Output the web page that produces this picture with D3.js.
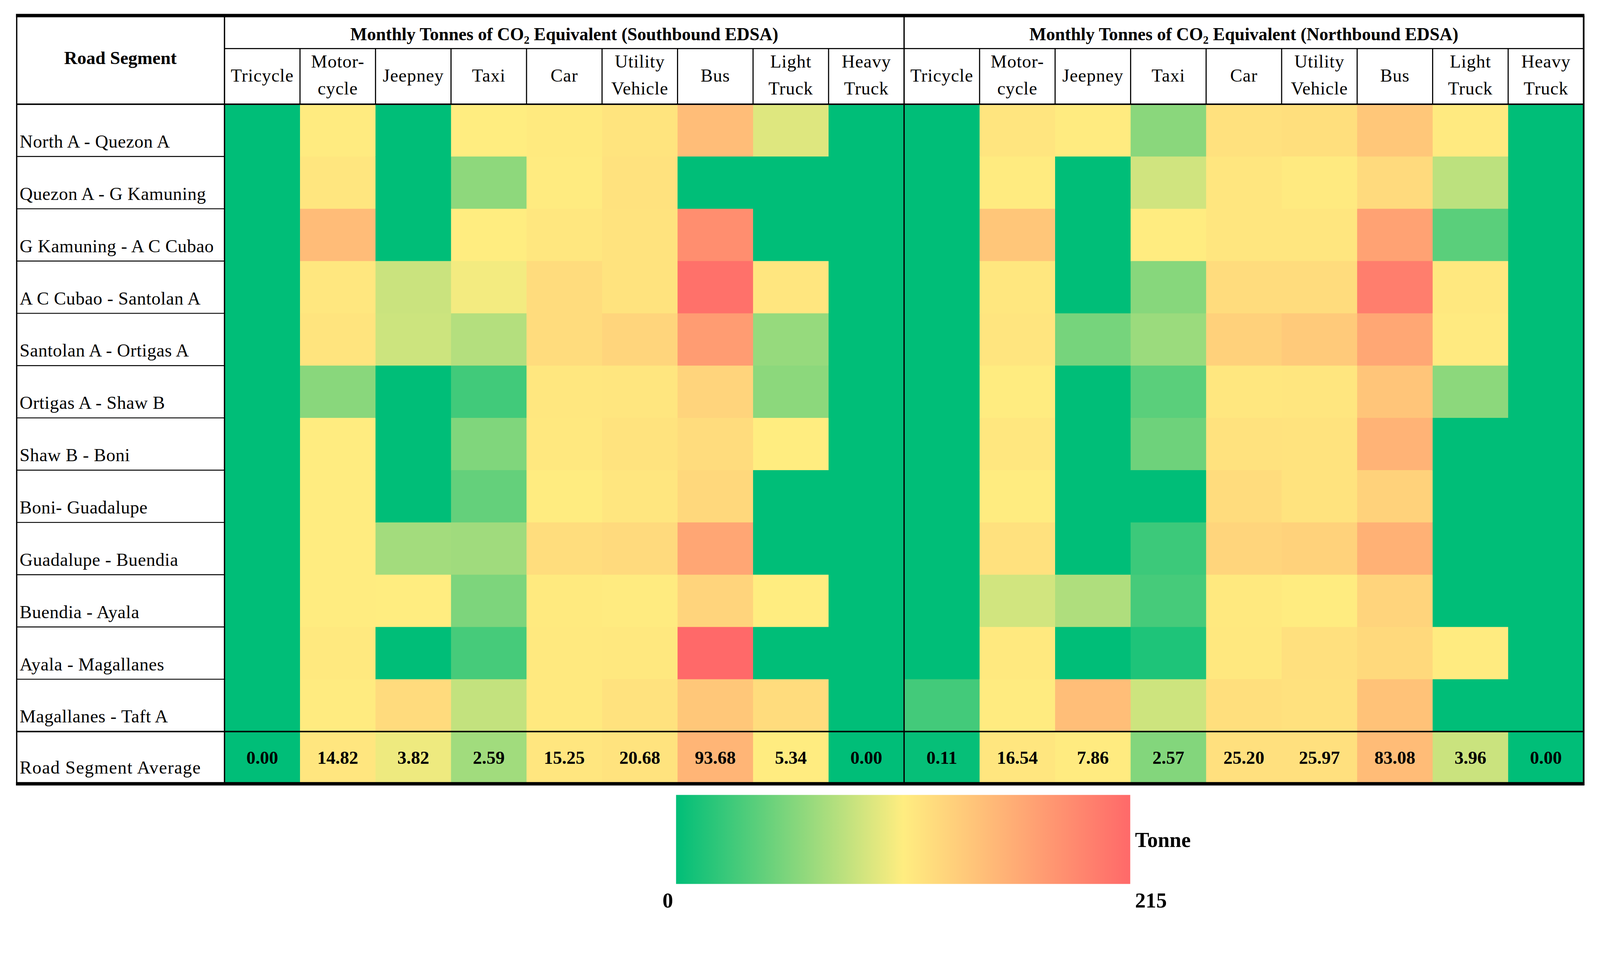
<!DOCTYPE html>
<html>
<head>
<meta charset="utf-8">
<script src="https://cdn.jsdelivr.net/npm/d3@7"></script>
<style>
  html, body { margin: 0; padding: 0; background: #fff; overflow: hidden; }
  svg { display: block; }
  text { font-family: "Liberation Serif", "Times New Roman", serif; fill: #000; }
</style>
</head>
<body>
<svg id="chart"></svg>
<script>
// Data
const segments = [
  'North A - Quezon A', 'Quezon A - G Kamuning', 'G Kamuning - A C Cubao',
  'A C Cubao - Santolan A', 'Santolan A - Ortigas A', 'Ortigas A - Shaw B',
  'Shaw B - Boni', 'Boni- Guadalupe', 'Guadalupe - Buendia',
  'Buendia - Ayala', 'Ayala - Magallanes', 'Magallanes - Taft A'
];
const vehicles = [
  ['Tricycle'], ['Motor-', 'cycle'], ['Jeepney'], ['Taxi'], ['Car'],
  ['Utility', 'Vehicle'], ['Bus'], ['Light', 'Truck'], ['Heavy', 'Truck']
];
const directions = ['Southbound EDSA', 'Northbound EDSA'];

// one array per vehicle, one value per road segment (tonnes / month)
const southbound = [
  [0, 0, 0, 0, 0, 0, 0, 0, 0, 0, 0, 0],
  [7, 16, 82, 14, 18, 2.2, 5.2, 5.0, 5.3, 5.1, 10, 8],
  [0, 0, 0, 3.25, 3.28, 0, 0, 0, 2.62, 4.4, 0, 32.3],
  [4.2, 2.28, 4.23, 3.91, 2.89, 1.05, 2.06, 1.61, 2.57, 2.01, 1.13, 3.14],
  [9, 7, 14, 31, 31, 14, 12.5, 5, 29, 9, 10.5, 11],
  [18, 21.5, 20, 20, 43, 15, 20, 15, 35, 8, 11.5, 21.2],
  [80, 0, 156, 203, 133, 44, 31, 37, 117, 44, 215, 64.2],
  [3.57, 0, 0, 15, 2.41, 2.25, 4.55, 0, 0, 4.5, 0, 31.8],
  [0, 0, 0, 0, 0, 0, 0, 0, 0, 0, 0, 0]
];
const northbound = [
  [0, 0, 0, 0, 0, 0, 0, 0, 0, 0, 0, 1.32],
  [17.5, 7.5, 67.4, 14.5, 18, 6, 14.5, 6, 24.5, 4.1, 11, 7.5],
  [8.2, 0, 0, 0, 2.31, 0, 0, 0, 0, 3.43, 0, 80.36],
  [2.71, 4.08, 7.28, 2.65, 3.04, 1.76, 2.16, 0, 1.18, 1.37, 0.59, 4.02],
  [24, 16, 16, 32, 50, 14.5, 22.5, 32, 43.5, 11, 13, 27.9],
  [28, 9, 16.5, 32.5, 60, 16.5, 21.5, 21.5, 48.5, 7, 26, 24.6],
  [65, 36, 125, 181, 117, 69, 98, 48.5, 101, 45.5, 37.5, 73.5],
  [9, 3.69, 1.76, 13.3, 9, 2.75, 0, 0, 0, 0, 8, 0],
  [0, 0, 0, 0, 0, 0, 0, 0, 0, 0, 0, 0]
];
const southAverage = [0.00, 14.82, 3.82, 2.59, 15.25, 20.68, 93.68, 5.34, 0.00];
const northAverage = [0.11, 16.54, 7.86, 2.57, 25.20, 25.97, 83.08, 3.96, 0.00];
const legendTicks = [0, 215];

// Layout (drawn in a 4312 x 2484 coordinate space, fitted to the window width)
const W = 4312, H = 2484;
const tblLeft = 44, labelRight = 605, tblRight = 4268;
const tblTop = 42, groupBottom = 131, headBottom = 281, tblBottom = 2113;
const green = '#00be78', yellow = '#ffed80', red = '#ff6969';

const fitW = window.innerWidth;
const svg = d3.select('#chart')
  .attr('width', fitW)
  .attr('height', fitW * H / W)
  .attr('viewBox', `0 0 ${W} ${H}`);

svg.append('rect').attr('width', W).attr('height', H).attr('fill', '#fff');

const x = d3.scaleBand().domain(d3.range(18)).range([labelRight, tblRight]);
const y = d3.scaleBand().domain(d3.range(13)).range([headBottom, tblBottom]);
const bw = x.bandwidth(), bh = y.bandwidth();

// Excel-style 3 colour scales (midpoint differs per direction)
const colors = [
  d3.scaleLinear().domain([0, 4.1, 215]).range([green, yellow, red]).interpolate(d3.interpolateRgb),
  d3.scaleLinear().domain([0, 5, 215]).range([green, yellow, red]).interpolate(d3.interpolateRgb)
];

const tables = [southbound, northbound];
const averages = [southAverage, northAverage];

const cells = [];
tables.forEach((tab, d) => tab.forEach((col, v) => col.forEach((val, r) => {
  cells.push({ d, v, r, val });
})));

svg.append('g').selectAll('rect')
  .data(cells)
  .join('rect')
  .attr('x', c => x(c.d * 9 + c.v))
  .attr('y', c => y(c.r))
  .attr('width', bw + 1)
  .attr('height', bh + 1)
  .attr('fill', c => colors[c.d](c.val));

// Average row
const avgCells = [];
averages.forEach((arr, d) => arr.forEach((val, v) => avgCells.push({ d, v, val })));

const avgG = svg.append('g');
avgG.selectAll('rect')
  .data(avgCells)
  .join('rect')
  .attr('x', c => x(c.d * 9 + c.v))
  .attr('y', y(12))
  .attr('width', bw + 1)
  .attr('height', bh)
  .attr('fill', c => colors[c.d](c.val));
avgG.selectAll('text')
  .data(avgCells)
  .join('text')
  .attr('x', c => x(c.d * 9 + c.v) + bw / 2)
  .attr('y', y(12) + bh / 2 + 17)
  .attr('text-anchor', 'middle')
  .attr('font-size', 49)
  .attr('font-weight', 'bold')
  .text(c => c.val.toFixed(2));

// Row labels
svg.append('g').selectAll('text')
  .data(segments.concat(['Road Segment Average']))
  .join('text')
  .attr('x', tblLeft + 9)
  .attr('y', (s, i) => y(i) + bh - (i === 12 ? 28 : 24))
  .attr('font-size', 49)
  .attr('letter-spacing', (s, i) => i === 12 ? 1.5 : 0.6)
  .text(s => s);

// Header
svg.append('text')
  .attr('x', (tblLeft + labelRight) / 2)
  .attr('y', 173)
  .attr('text-anchor', 'middle')
  .attr('font-size', 49)
  .attr('font-weight', 'bold')
  .text('Road Segment');

directions.forEach((dir, d) => {
  const cx = (x(d * 9) + x(d * 9 + 8) + bw) / 2;
  const t = svg.append('text')
    .attr('x', cx)
    .attr('y', 108)
    .attr('text-anchor', 'middle')
    .attr('font-size', 48)
    .attr('font-weight', 'bold');
  t.append('tspan').text('Monthly Tonnes of CO');
  t.append('tspan').attr('font-size', 30).attr('dy', 10).text('2');
  t.append('tspan').attr('dy', -10).text(` Equivalent (${dir})`);

  vehicles.forEach((lines, v) => {
    const cx2 = x(d * 9 + v) + bw / 2;
    lines.forEach((ln, k) => {
      svg.append('text')
        .attr('x', cx2)
        .attr('y', lines.length === 1 ? 220 : (k === 0 ? 182 : 255))
        .attr('text-anchor', 'middle')
        .attr('font-size', 49)
        .attr('letter-spacing', 1)
        .text(ln);
    });
  });
});

// Grid lines
const grid = svg.append('g').attr('stroke', '#000');
function hline(y0, x0, x1, w) {
  grid.append('line').attr('x1', x0).attr('x2', x1).attr('y1', y0).attr('y2', y0).attr('stroke-width', w);
}
function vline(x0, y0, y1, w) {
  grid.append('line').attr('x1', x0).attr('x2', x0).attr('y1', y0).attr('y2', y1).attr('stroke-width', w);
}
// header column separators
d3.range(1, 18).forEach(j => {
  if (j !== 9) vline(x(j), groupBottom, headBottom, 3);
});
hline(groupBottom, labelRight, tblRight, 3);
hline(headBottom, tblLeft, tblRight, 4);
d3.range(1, 12).forEach(i => hline(y(i), tblLeft, labelRight, 2.5));
hline(y(12), tblLeft, tblRight, 4);
vline(labelRight, tblTop, tblBottom, 3.5);
vline(x(9), tblTop + 4, tblBottom, 3.5);
vline(tblLeft + 1, tblTop, tblBottom + 4, 3.5);
vline(tblRight, tblTop, tblBottom + 4, 4.5);
hline(tblTop, tblLeft - 1, tblRight + 2, 9);
hline(tblBottom, tblLeft - 1, tblRight + 2, 9);

// Legend
const lx = d3.scaleLinear().domain(d3.extent(legendTicks)).range([1822, 3046]);
const grad = svg.append('defs').append('linearGradient').attr('id', 'tonneGrad');
grad.selectAll('stop')
  .data([0, 0.5, 1])
  .join('stop')
  .attr('offset', o => o * 100 + '%')
  .attr('stop-color', (o, i) => [green, yellow, red][i]);

svg.append('rect')
  .attr('x', lx(0))
  .attr('y', 2143)
  .attr('width', lx(215) - lx(0))
  .attr('height', 240)
  .attr('fill', 'url(#tonneGrad)');

svg.append('text')
  .attr('x', lx(215) + 13)
  .attr('y', 2283)
  .attr('font-size', 57)
  .attr('font-weight', 'bold')
  .text('Tonne');

svg.append('g').selectAll('text')
  .data(legendTicks)
  .join('text')
  .attr('x', t => t === 0 ? lx(t) - 8 : lx(t) + 13)
  .attr('y', 2447)
  .attr('text-anchor', t => t === 0 ? 'end' : 'start')
  .attr('font-size', 57)
  .attr('font-weight', 'bold')
  .text(t => t);
</script>
</body>
</html>
